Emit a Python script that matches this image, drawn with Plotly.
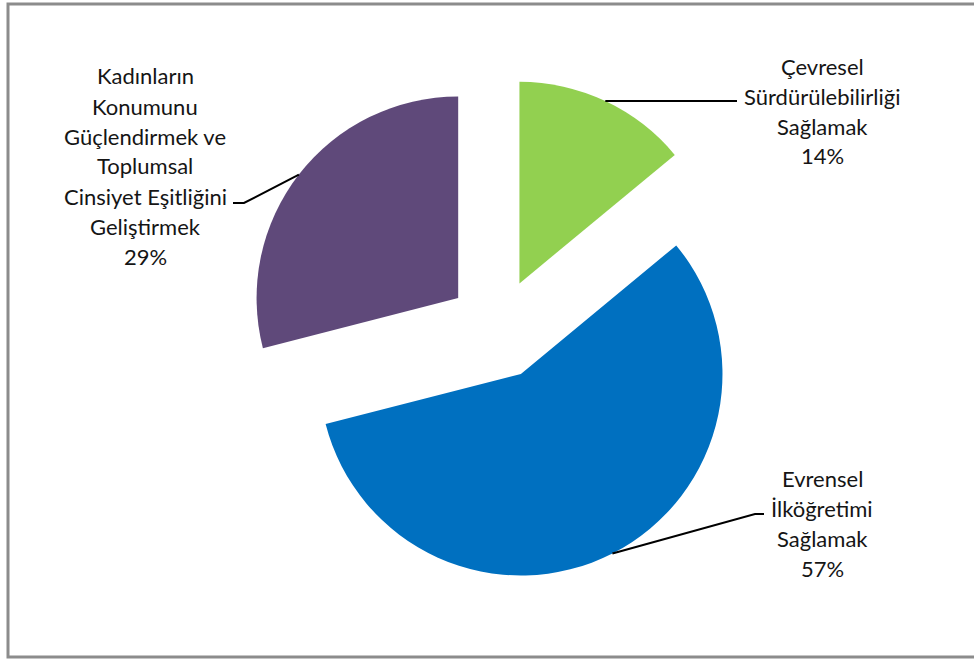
import math
import plotly.graph_objects as go

# ---- data ----
categories = [
    "Çevresel Sürdürülebilirliği Sağlamak",
    "Evrensel İlköğretimi Sağlamak",
    "Kadınların Konumunu Güçlendirmek ve Toplumsal Cinsiyet Eşitliğini Geliştirmek",
]
label_lines = [
    ["Çevresel", "Sürdürülebilirliği", "Sağlamak"],
    ["Evrensel", "İlköğretimi", "Sağlamak"],
    ["Kadınların", "Konumunu", "Güçlendirmek ve", "Toplumsal", "Cinsiyet Eşitliğini", "Geliştirmek"],
]
values = [14, 57, 29]
colors = ["#92D050", "#0070C0", "#5F497A"]

# ---- layout constants (pixels) ----
W, H = 974, 659
PULL = 0.25
CX, CY, HALF = 498, 329, 252          # pie box centre and half size
LINE_H = 30
FONT = dict(family="Lato, 'Open Sans', sans-serif", size=22, color="#151515")
# label block: centre x, first-line centre y ; leader: elbow point, end point
label_pos = [(822, 66), (822, 478), (145, 76)]
leader_pts = [[(728, None), (737, None)], [(755, 514), (764, 514)], [(244, 203), (233, 203)]]

def px(x):
    return x / W

def py(y):
    return 1 - y / H

fig = go.Figure(go.Pie(
    labels=categories,
    values=values,
    sort=False,
    direction="clockwise",
    rotation=0,
    pull=[PULL] * len(values),
    marker=dict(colors=colors, line=dict(width=0)),
    textinfo="none",
    hoverinfo="label+percent",
    showlegend=False,
    domain=dict(x=[px(CX - HALF), px(CX + HALF)], y=[py(CY + HALF), py(CY - HALF)]),
))

R = HALF / (1 + PULL)
total = sum(values)
annotations = []
shapes = []
cum = 0
for i, v in enumerate(values):
    mid = (cum + v / 2) / total * 2 * math.pi
    cum += v
    dx, dy = math.sin(mid), -math.cos(mid)
    sx = CX + (R + PULL * R) * dx
    sy = CY + (R + PULL * R) * dy
    pts = [(sx, sy)] + [(x, sy if y is None else y) for x, y in leader_pts[i]]
    path = "M " + " L ".join(f"{px(x)},{py(y)}" for x, y in pts)
    shapes.append(dict(type="path", xref="paper", yref="paper", path=path,
                       line=dict(color="#000000", width=2)))
    lines = label_lines[i] + [f"{round(v / total * 100)}%"]
    lx, ly = label_pos[i]
    for k, t in enumerate(lines):
        annotations.append(dict(text=t, x=px(lx), y=py(ly + k * LINE_H), xref="paper", yref="paper",
                                showarrow=False, xanchor="center", yanchor="middle", font=FONT))

# outer frame
shapes.append(dict(type="rect", xref="paper", yref="paper",
                   x0=px(8), x1=px(990), y0=py(657), y1=py(4),
                   line=dict(color="#8C8C8C", width=3), fillcolor="rgba(0,0,0,0)"))

fig.update_layout(
    width=W, height=H,
    margin=dict(l=0, r=0, t=0, b=0),
    paper_bgcolor="white",
    annotations=annotations,
    shapes=shapes,
)

fig.write_html("out.html")
